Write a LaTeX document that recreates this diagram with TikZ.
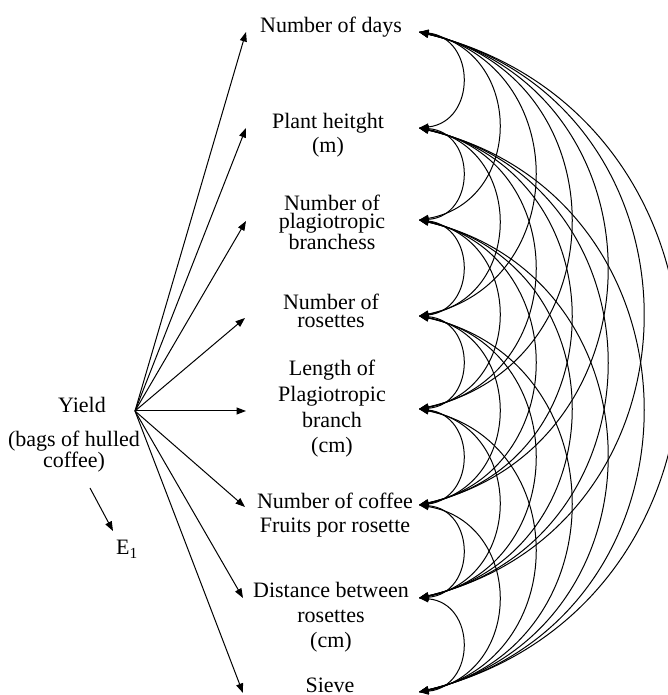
\documentclass[tikz,border=0pt]{standalone}
\usepackage{fontspec}
\setmainfont{Liberation Serif}
\usetikzlibrary{arrows.meta}
\begin{document}
\begin{tikzpicture}[x=1pt,y=1pt,
  lbl/.style={inner sep=0pt, align=center, anchor=base},
  fnt/.style={font=\fontsize{22}{#1}\selectfont},
  tip/.style={-{Triangle[length=9.5pt,width=7pt]}, line width=1pt},
  dtip/.style={{Triangle[length=9.5pt,width=7pt]}-{Triangle[length=9.5pt,width=7pt]}, line width=1pt}]
\useasboundingbox (0,0) rectangle (668,695);
% variable labels (anchored at the baseline of their last line)
\node[lbl, fnt=24] (days) at (331,695-33) {Number of days};
\node[lbl, fnt=24] (plant) at (328,695-153) {Plant heitght\\(m)};
\node[lbl, fnt=18] (plagio) at (332,695-250) {Number of\\plagiotropic\\branchess};
\node[lbl, fnt=18.5] (ros) at (331,695-328) {Number of\\rosettes};
\node[lbl, fnt=25.7] (len) at (332,695-453) {Length of\\Plagiotropic\\branch\\(cm)};
\node[lbl, fnt=24] (fruit) at (335,695-533) {Number of coffee\\Fruits por rosette};
\node[lbl, fnt=25] (dist) at (331,695-648) {Distance between\\rosettes\\(cm)};
\node[lbl, fnt=24] (sieve) at (330,695-693) {Sieve};
% yield
\node[lbl, fnt=24] (yield) at (82,695-413) {Yield};
\node[lbl, fnt=20] (yunit) at (74,695-468) {(bags of hulled\\coffee)};
\node[lbl, fnt=24] (err) at (127,695-555) {E\textsubscript{1}};
% anchor points
\coordinate (y0) at (135,695-411);
\foreach \x/\y [count=\n] in {246/32,246/128,246/221,245/318,246/411,245/507,243/598,243/693}
  \coordinate (l\n) at (\x,695-\y);
\foreach \y [count=\n] in {32,128,220,316,409,505,598,692}
  \coordinate (r\n) at (419,695-\y);
\coordinate (e1s) at (90,695-488);
\coordinate (e1e) at (113,695-531);
% arrows from yield
\foreach \n in {1,...,8}
  \draw[tip] (y0) -- (l\n);
\draw[tip] (e1s) -- (e1e);
% correlation arcs
\def\ys{{32,128,220,316,409,505,598,692}}
\foreach \i in {1,...,7}{
  \pgfmathtruncatemacro\nx{\i+1}
  \foreach \j in {\nx,...,8}{
    \pgfmathsetmacro\ya{\ys[\i-1]}
    \pgfmathsetmacro\yb{\ys[\j-1]}
    \pgfmathsetmacro\hh{(\yb-\ya)/2}
    \pgfmathsetmacro\ss{7+36*(\j-\i)}
    \pgfmathsetmacro\ph{2*atan(\ss/\hh)}
    \pgfmathsetmacro\dd{4/3*\ss/sin(\ph)}
    \draw[dtip] (r\i) to[out=\ph, in=180-\ph, relative, distance=\dd pt] (r\j);
  }
}
\end{tikzpicture}
\end{document}
